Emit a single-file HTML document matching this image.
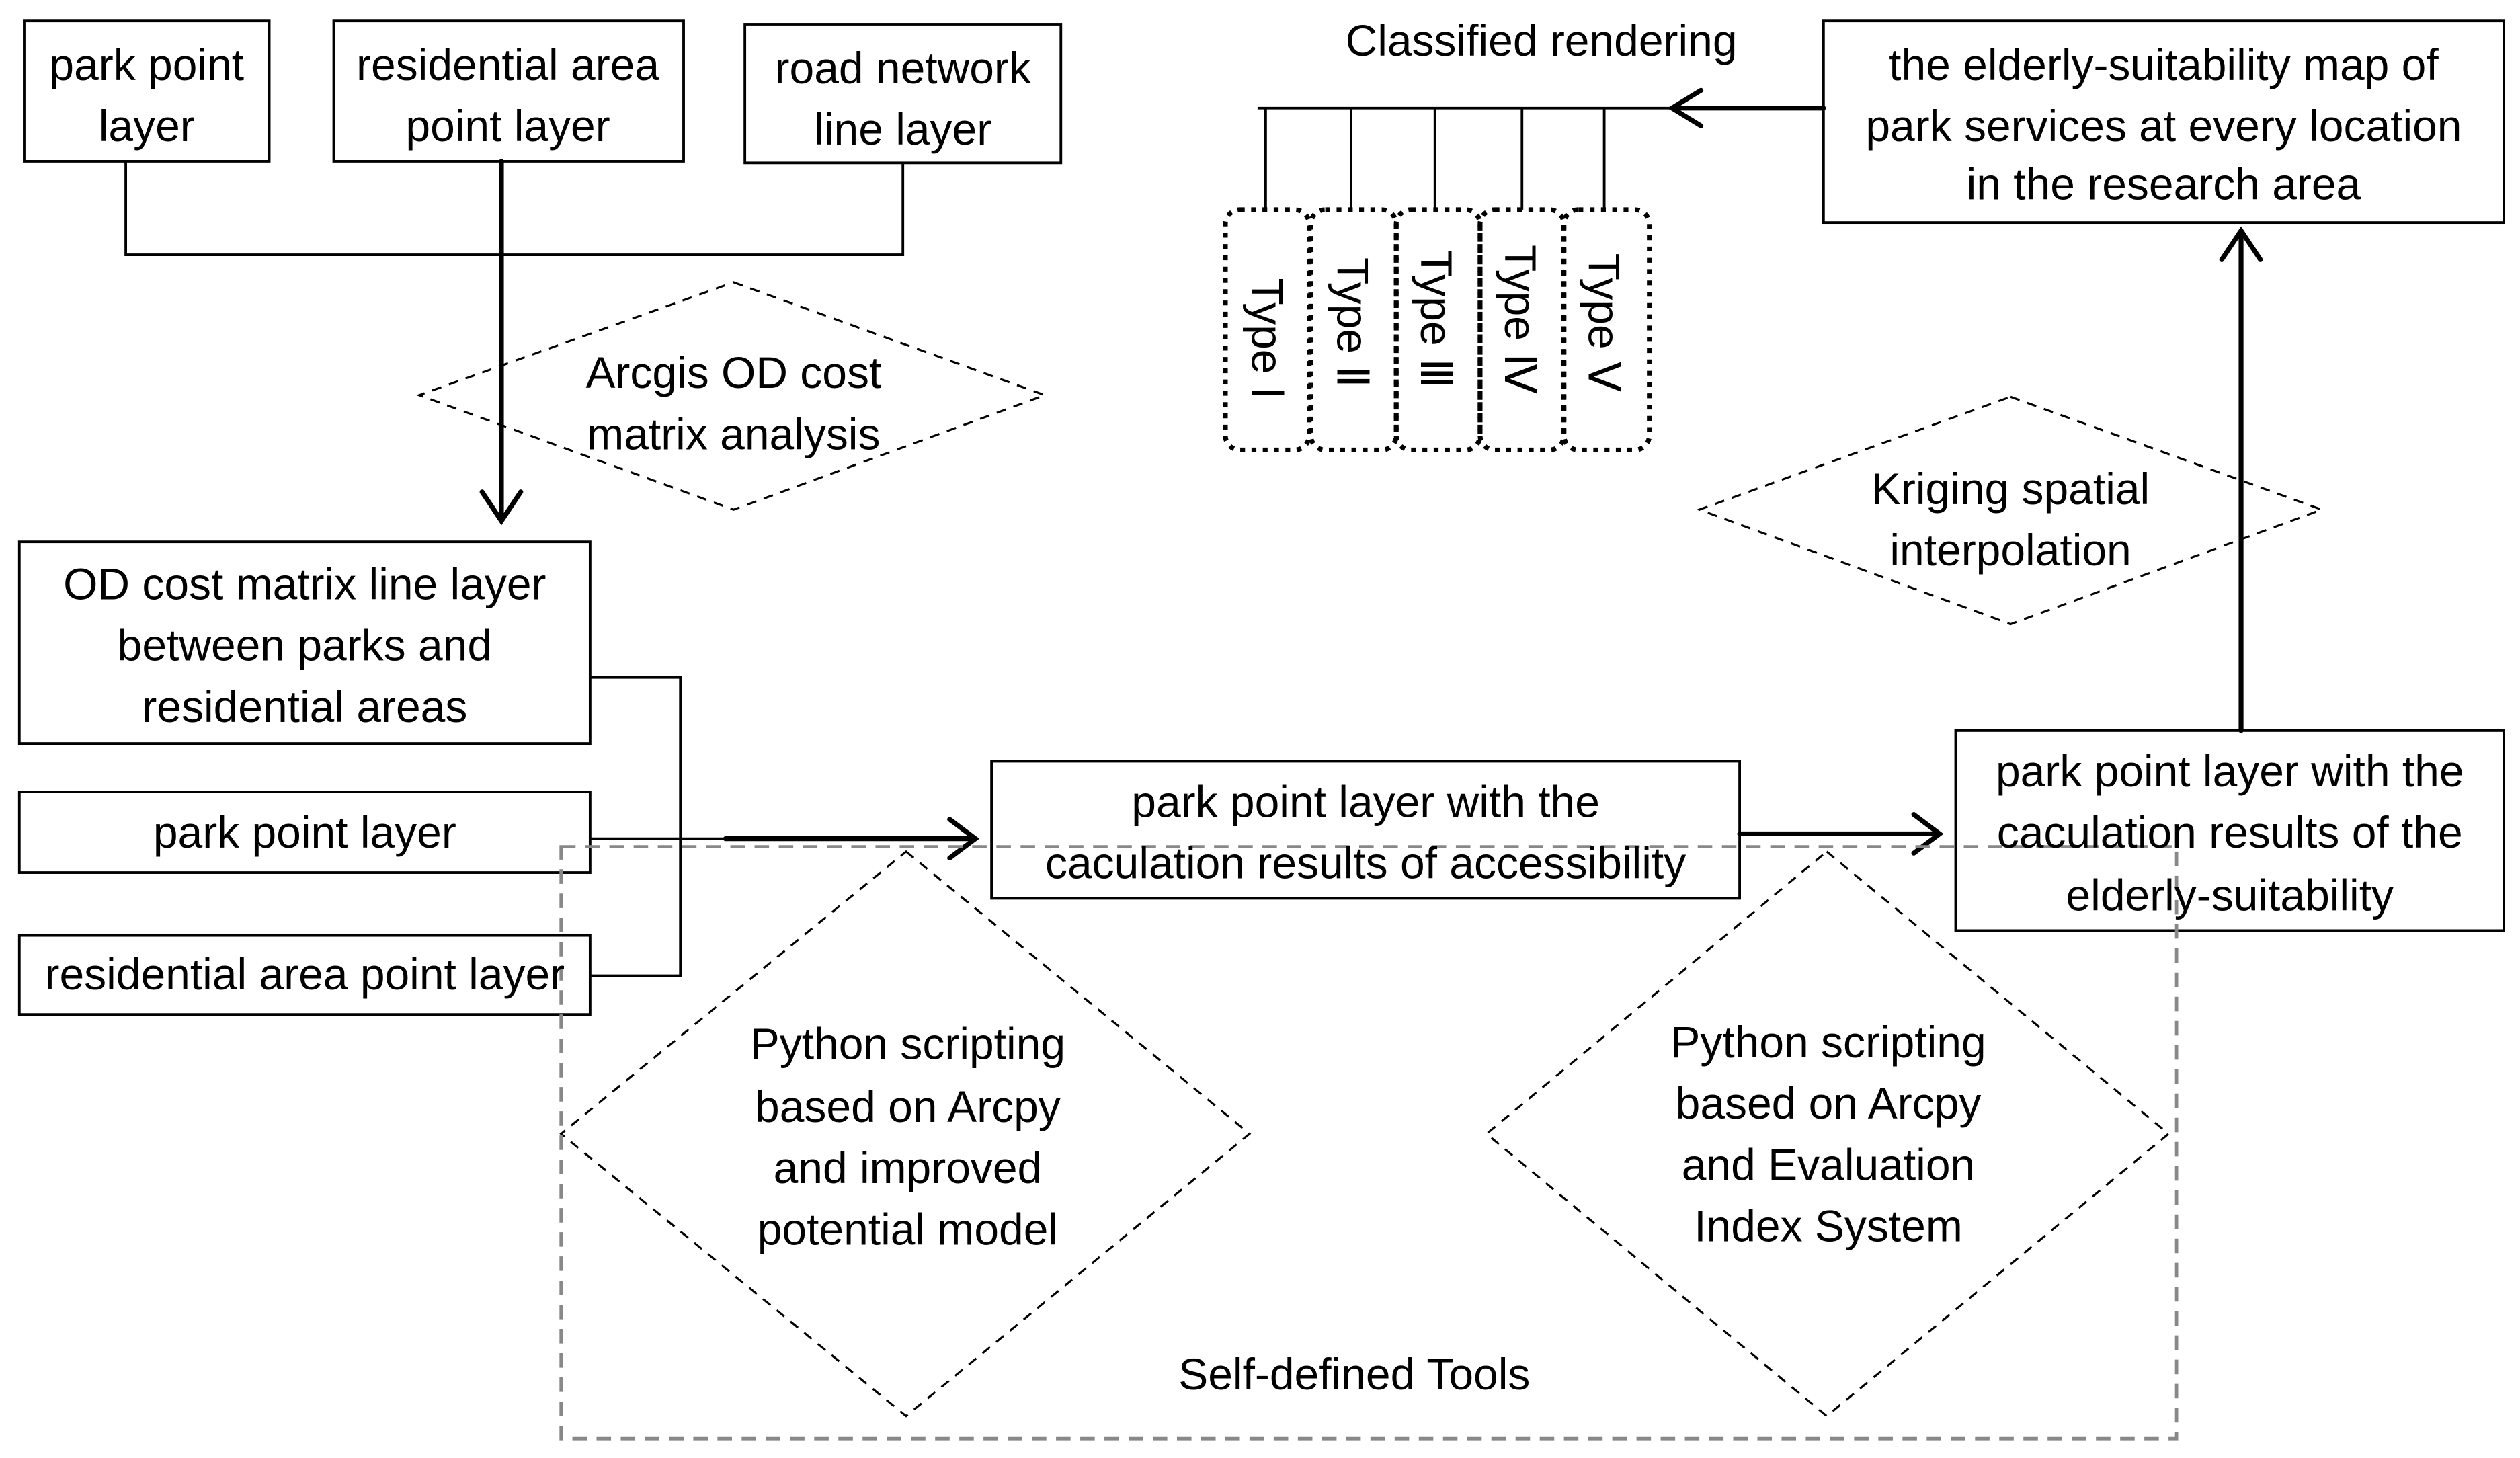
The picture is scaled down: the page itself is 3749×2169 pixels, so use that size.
<!DOCTYPE html>
<html><head><meta charset="utf-8"><style>
html,body{margin:0;padding:0;background:#fff;}
svg{display:block;}
text{font-family:"Liberation Sans Narrow","Liberation Sans",sans-serif;font-size:27.5px;fill:#000;text-anchor:middle;dominant-baseline:central;}
</style></head><body>
<svg width="3749" height="2169" viewBox="0 0 1563 904" preserveAspectRatio="none" xmlns="http://www.w3.org/2000/svg">
<g fill="none" stroke="#000" stroke-width="1.6">
<rect x="15" y="13" width="152" height="87"/>
<rect x="207" y="13" width="217" height="87"/>
<rect x="462" y="15" width="196" height="86"/>
<path d="M78 100V158H560V101"/>
<rect x="12" y="336" width="354" height="125"/>
<rect x="12" y="491" width="354" height="50"/>
<rect x="12" y="580" width="354" height="49"/>
<path d="M366 420H422V605H366M366 520H450"/>
<rect x="615" y="472" width="464" height="85"/>
<rect x="1213" y="453" width="340" height="124"/>
<rect x="1131" y="13" width="422" height="125"/>
<path d="M780 67H1131M785 67V130M838 67V130M890 67V130M944 67V130M995 67V130"/>
</g>
<g fill="none" stroke="#000" stroke-width="3" stroke-linecap="round">
<path d="M311 100V323M299 305L311 323L323 305"/>
<path d="M450 520H605M589 508L605 520L589 532"/>
<path d="M1079 517H1203M1187 505L1203 517L1187 529"/>
<path d="M1390 453V143M1378 161L1390 143L1402 161"/>
<path d="M1131 67H1037M1055 56L1037 67L1055 78"/>
</g>
<g fill="none" stroke="#000" stroke-width="1.3" stroke-dasharray="6,5">
<path d="M455 175L648 245L455 316L260 245Z"/>
<path d="M1247 246L1440 316L1247 387L1054 316Z"/>
<path d="M562 528L775 703L562 878L348 703Z"/>
<path d="M1133 528L1345 703L1133 878L922 703Z"/>
</g>
<rect x="348" y="525" width="1002" height="367" fill="none" stroke="#888" stroke-width="2" stroke-dasharray="9,6"/>
<g fill="none" stroke="#000" stroke-width="3" stroke-dasharray="3,4">
<rect x="760" y="130" width="52" height="149" rx="9"/>
<rect x="813" y="130" width="53" height="149" rx="9"/>
<rect x="866" y="130" width="52" height="149" rx="9"/>
<rect x="918" y="130" width="52" height="149" rx="9"/>
<rect x="970" y="130" width="53" height="149" rx="9"/>
</g>
<g>
<text x="91" y="40">park point</text>
<text x="91" y="78">layer</text>
<text x="315" y="40">residential area</text>
<text x="315" y="78">point layer</text>
<text x="560" y="42">road network</text>
<text x="560" y="80">line layer</text>
<text x="455" y="231">Arcgis OD cost</text>
<text x="455" y="269">matrix analysis</text>
<text x="189" y="362">OD cost matrix line layer</text>
<text x="189" y="400">between parks and</text>
<text x="189" y="438">residential areas</text>
<text x="189" y="516">park point layer</text>
<text x="189" y="604">residential area point layer</text>
<text x="847" y="497">park point layer with the</text>
<text x="847" y="535">caculation results of accessibility</text>
<text x="1383" y="478">park point layer with the</text>
<text x="1383" y="516">caculation results of the</text>
<text x="1383" y="555">elderly-suitability</text>
<text x="1342" y="40">the elderly-suitability map of</text>
<text x="1342" y="78">park services at every location</text>
<text x="1342" y="114">in the research area</text>
<text x="956" y="25">Classified rendering</text>
<text x="1247" y="303">Kriging spatial</text>
<text x="1247" y="341">interpolation</text>
<text x="563" y="647">Python scripting</text>
<text x="563" y="686">based on Arcpy</text>
<text x="563" y="724">and improved</text>
<text x="563" y="762">potential model</text>
<text x="1134" y="646">Python scripting</text>
<text x="1134" y="684">based on Arcpy</text>
<text x="1134" y="722">and Evaluation</text>
<text x="1134" y="760">Index System</text>
<text x="840" y="852">Self-defined Tools</text>
</g>
<text transform="translate(786,210) rotate(90)">Type Ⅰ</text>
<text transform="translate(839,200) rotate(90)">Type Ⅱ</text>
<text transform="translate(891,198) rotate(90)">Type Ⅲ</text>
<text transform="translate(943,198) rotate(90)">Type Ⅳ</text>
<text transform="translate(995,200) rotate(90)">Type Ⅴ</text>
</svg>
</body></html>
